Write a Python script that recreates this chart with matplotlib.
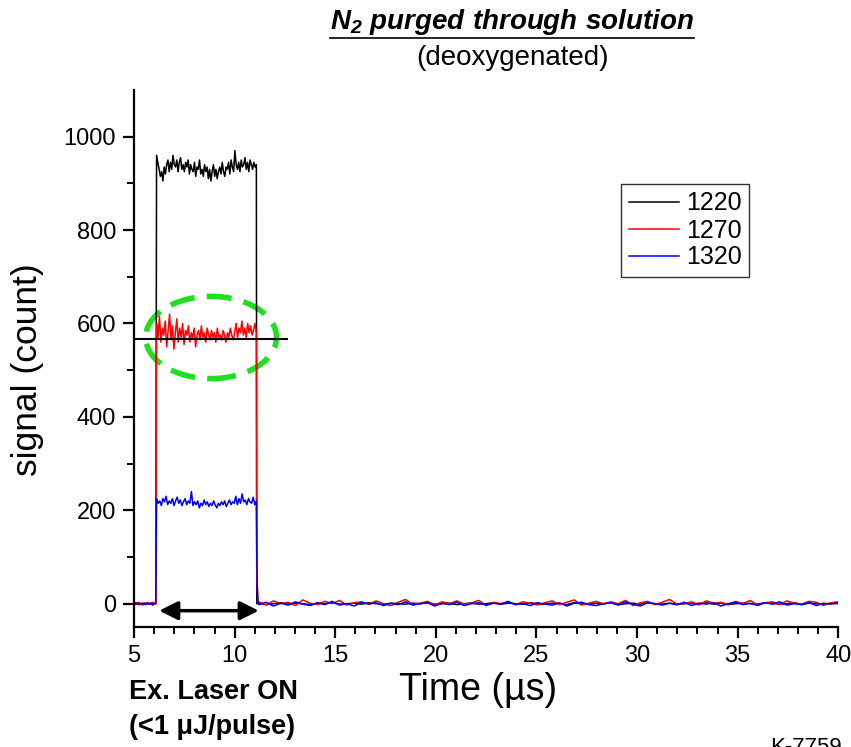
import matplotlib
matplotlib.use("Agg")
import matplotlib.pyplot as plt
import numpy as np
from matplotlib.patches import Ellipse
from matplotlib.lines import Line2D

plt.rcParams['font.family'] = ['Liberation Sans', 'DejaVu Sans']
plt.rcParams['mathtext.fontset'] = 'custom'
plt.rcParams['mathtext.it'] = 'Liberation Sans:bold:italic'
plt.rcParams['mathtext.rm'] = 'Liberation Sans:bold:italic'

# pulse window (us)
pulse_start = 6.1
pulse_end = 11.1

wavelengths = ['1220', '1270', '1320']
colors = ['black', 'red', 'blue']

# signal before the pulse
pre_1220 = [0, 2, -1, 1, -2, 0, 1, -1, 0, 2, -1, 0, 1, -2, 0, 1]
pre_1270 = [1, -2, 0, 3, -1, 1, -3, 2, 0, -1, 2, 0, -2, 3, 1, -1]
pre_1320 = [-1, 0, 2, -2, 1, 0, -1, 1, -2, 0, 1, -1, 2, -3, 0, 1]

# plateau while the laser is on
on_1220 = [960, 945, 930, 915, 925, 905, 935, 920, 940, 950, 925, 945, 930, 960, 940,
           935, 950, 925, 945, 955, 930, 940, 925, 945, 935, 950, 920, 940, 930, 925,
           945, 915, 935, 930, 950, 920, 930, 915, 940, 925, 935, 910, 930, 905, 925,
           940, 915, 930, 910, 925, 935, 920, 945, 925, 915, 935, 930, 945, 920, 950,
           935, 925, 970, 940, 930, 945, 925, 950, 935, 940, 955, 930, 945, 925, 950,
           940, 930, 945, 935, 940]
on_1270 = [600, 570, 615, 560, 590, 575, 605, 550, 585, 620, 565, 595, 545, 580, 610,
           560, 590, 570, 600, 555, 585, 575, 595, 560, 580, 570, 590, 550, 575, 585,
           565, 595, 570, 580, 560, 590, 575, 565, 585, 570, 580, 560, 590, 570, 575,
           565, 585, 575, 560, 580, 570, 590, 575, 565, 580, 600, 570, 590, 580, 605,
           575, 590, 570, 600, 580, 595, 575, 585, 600, 580]
on_1320 = [225, 215, 220, 210, 225, 218, 230, 212, 220, 215, 225, 210, 220, 228, 215,
           222, 210, 218, 225, 212, 220, 215, 240, 210, 218, 212, 220, 205, 215, 210,
           222, 212, 218, 208, 215, 210, 220, 212, 205, 215, 210, 218, 212, 220, 208,
           215, 222, 212, 218, 215, 230, 212, 225, 215, 235, 218, 222, 212, 225, 218,
           215, 228, 212, 220]

# decay right after the pulse
fall_1220 = [0]
fall_1270 = [60, 5]
fall_1320 = [110, 30, 5]

# baseline after the pulse
post_1220 = [1, -2, 0, 2, -1, 1, 0, -2, 1, 0, 2, -1, 0, 1, -1, 2, 0, -2, 1, 0,
             -1, 1, 0, 2, -1, 0, 1, -2, 0, 1, -1, 0, 2, -1, 1, 0, -1, 2, 0, -1,
             1, 0, -2, 2, 0, -1, 1, 0, 2, -2, 0, 1, -1, 2, 0, -1, 1, -2, 0, 1,
             0, 2, -1, 1, -2, 0, 1, 0, -1, 2, 1, -1, 0, 2, -2, 1, 0, -1, 1, 0]
post_1270 = [4, -3, 6, 0, 3, -4, 8, 1, -2, 5, 0, 7, -3, 2, 4, -1, 6, 0, -4, 3,
             9, -2, 1, 5, -3, 4, 0, 6, -1, 2, 7, -4, 3, 0, 5, -2, 4, 1, -3, 2,
             6, -2, 3, 8, -3, 1, 5, -1, 4, 0, 7, -4, 2, 5, -2, 3, 9, -1, 0, 4,
             -3, 6, 1, 3, -2, 5, 0, 7, -3, 2, 4, -2, 6, 1, -1, 5, 3, -4, 2, 4]
post_1320 = [-2, 3, -5, 1, -3, 4, -1, -4, 2, -2, 5, -3, 0, -5, 3, -1, 2, -4, 1, -2,
             4, -3, 0, 2, -5, 1, -2, 3, -4, 0, 2, -3, 1, -1, 4, -2, 0, -4, 2, -1,
             -3, 2, -5, 1, 3, -2, -4, 0, 2, -3, 4, -1, -5, 2, 0, -3, 1, -2, 3, -4,
             1, -1, 2, -5, 0, 3, -2, 1, -4, 2, -1, 4, -3, 0, -2, 3, -4, 1, -1, 2]

traces = [(pre_1220, on_1220, fall_1220, post_1220),
          (pre_1270, on_1270, fall_1270, post_1270),
          (pre_1320, on_1320, fall_1320, post_1320)]

# level marker and circled region
ref_level = 567
ref_x = [5.0, 12.6]

fig = plt.figure(figsize=(8.51, 7.47), dpi=100)
ax = fig.add_axes([0.1575, 0.1606, 0.8275, 0.719])

for (pre, on, fall, post), name, c in zip(traces, wavelengths, colors):
    t = np.concatenate([np.linspace(5.0, pulse_start - 0.02, len(pre)),
                        np.linspace(pulse_start + 0.02, pulse_end - 0.02, len(on)),
                        np.linspace(pulse_end, pulse_end + 0.06, len(fall)),
                        np.linspace(pulse_end + 0.1, 40.0, len(post))])
    y = np.concatenate([pre, on, fall, post])
    ax.plot(t, y, color=c, lw=1.1, label=name)

ax.plot(ref_x, [ref_level, ref_level], color='black', lw=1.5)

ax.add_patch(Ellipse((8.83, 570), 6.5, 176, fill=False, edgecolor='#1fe01f',
                     lw=4.0, linestyle=(0, (4.5, 2.2))))

ax.annotate('', xy=(6.25, -15), xytext=(11.2, -15),
            arrowprops=dict(arrowstyle='<|-|>', color='black', lw=2.5,
                            mutation_scale=28, shrinkA=0, shrinkB=0))

ax.set_xlim(5, 40)
ax.set_ylim(-50, 1100)
ax.set_xticks(np.arange(5, 41, 5))
ax.set_xticks(np.arange(5, 41, 1), minor=True)
ax.set_yticks(np.arange(0, 1001, 200))
ax.set_yticks(np.arange(0, 1100, 100), minor=True)
for side in ['top', 'right']:
    ax.spines[side].set_visible(False)
for side in ['left', 'bottom']:
    ax.spines[side].set_linewidth(1.6)
ax.tick_params(which='major', direction='out', length=8, width=1.6, labelsize=17, pad=5)
ax.tick_params(which='minor', direction='out', length=5, width=1.4)

leg = ax.legend(loc='upper left', bbox_to_anchor=(621 / 851, 1 - 184 / 747),
                bbox_transform=fig.transFigure, fontsize=18,
                frameon=True, fancybox=False, edgecolor='black', handlelength=2.0,
                borderpad=0.3, labelspacing=0.12, handletextpad=0.3, borderaxespad=0)
leg.get_frame().set_linewidth(1.0)

# titles and labels
title = fig.text(0.602, 0.970, r'$N_2\ purged\ through\ solution$', ha='center',
                 va='center', fontsize=20)
fig.text(0.602, 0.923, '(deoxygenated)', ha='center', va='center', fontsize=20)
fig.text(0.032, 0.505, 'signal (count)', rotation=90, ha='center', va='center', fontsize=25.5)
fig.text(0.562, 0.076, 'Time (µs)', ha='center', va='center', fontsize=27)
fig.text(0.152, 0.074, 'Ex. Laser ON', ha='left', va='center', fontsize=19.5, fontweight='bold')
fig.text(0.152, 0.027, '(<1 μJ/pulse)', ha='left', va='center', fontsize=19.5, fontweight='bold')
fig.text(0.905, 0.0134, 'K-7759', ha='left', va='top', fontsize=16)

# underline the title
fig.canvas.draw()
bb = title.get_window_extent().transformed(fig.transFigure.inverted())
fig.add_artist(Line2D([bb.x0, bb.x1], [0.949, 0.949], color='black', lw=1.2,
                      transform=fig.transFigure))

fig.savefig('out.png', dpi=100)
